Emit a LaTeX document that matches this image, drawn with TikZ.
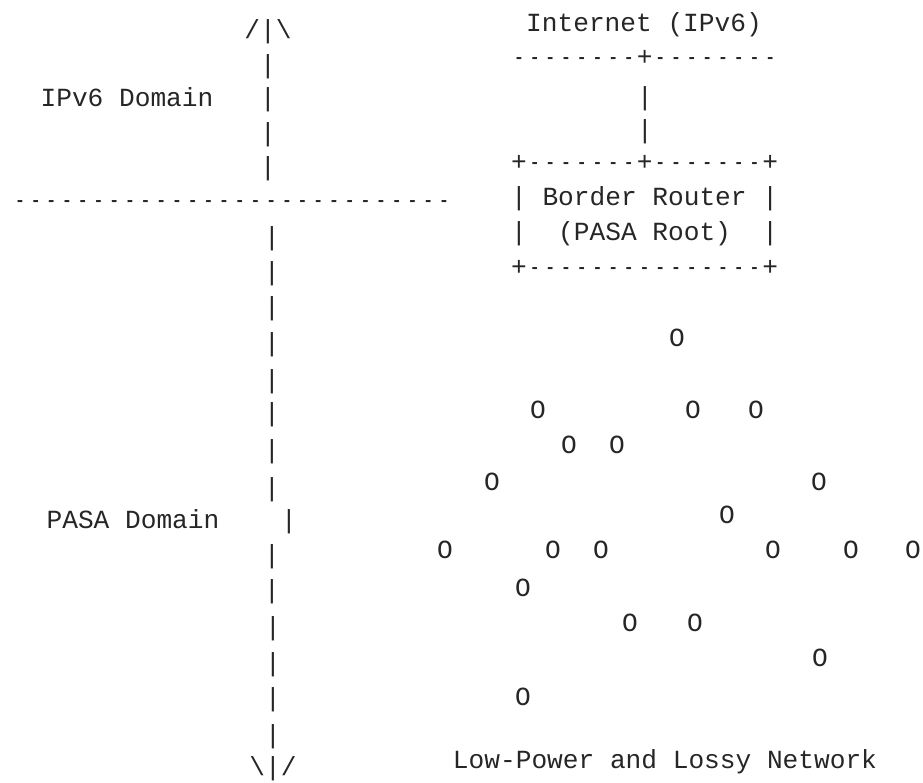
\documentclass[tikz,border=0pt]{standalone}
\usepackage{fontspec}
\usepackage{graphicx}
\setmonofont{Liberation Mono}
\definecolor{ink}{HTML}{262626}
% a short hyphen that keeps the monospace cell width
\newcommand\hy{\makebox[0.6em]{\scalebox{0.66}[1]{-}}}
\newcommand\hyrun[1]{\foreach\k in {1,...,#1}{\hy}}
\tikzset{
  txt/.style={inner sep=0pt, outer sep=0pt, anchor=center, text=ink,
    font=\ttfamily\fontsize{26.17pt}{30pt}\selectfont,
    text height=17pt, text depth=0pt},
}
\begin{document}
\begin{tikzpicture}[x=1pt, y=-1pt]
\useasboundingbox[fill=white] (0,0) rectangle (923,782);

% ---- left axis: IPv6 domain above, PASA domain below ----
\node[txt] (uptip) at (268,30) {/|\textbackslash};
\node[txt] (up1) at (268,65)  {|};
\node[txt] (up2) at (268,98)  {|};
\node[txt] (up3) at (268,133) {|};
\node[txt] (up4) at (268,167) {|};
\node[txt] (ipv6dom) at (127,98) {IPv6 Domain};

\node[txt] (border) at (232,200) {\hyrun{28}};

\node[txt] (lo6)  at (272,237) {|};
\node[txt] (lo7)  at (272,272) {|};
\node[txt] (lo8)  at (272,307) {|};
\node[txt] (lo9)  at (272,343) {|};
\node[txt] (lo10) at (272,380) {|};
\node[txt] (lo11) at (272,413) {|};
\node[txt] (lo12) at (272,450) {|};
\node[txt] (lo13) at (272,488) {|};
\node[txt] (lo14) at (289,520) {|};
\node[txt] (pasadom) at (133,520) {PASA Domain};
\node[txt] (lo15) at (272,555) {|};
\node[txt] (lo16) at (272,590) {|};
\node[txt] (lo17) at (273,627) {|};
\node[txt] (lo18) at (273,663) {|};
\node[txt] (lo19) at (273,698) {|};
\node[txt] (lo20) at (273,735) {|};
\node[txt] (lotip) at (273,767) {\textbackslash|/};

% ---- internet uplink and border router box ----
\node[txt] (inet)    at (644,23)    {Internet (IPv6)};
\node[txt] (inetbar) at (644.6,57)  {\hyrun{8}+\hyrun{8}};
\node[txt] (link1)   at (645,97)    {|};
\node[txt] (link2)   at (645,130)   {|};
\node[txt] (boxtop)  at (644.6,162) {+\hyrun{7}+\hyrun{7}+};
\node[txt] (boxl1)   at (644.6,197) {|~Border~Router~|};
\node[txt] (boxl2)   at (644.6,232) {|~~(PASA~Root)~~|};
\node[txt] (boxbot)  at (644.6,267) {+\hyrun{15}+};

% ---- LLN nodes ----
\node[txt] (n1)  at (677,338) {O};
\node[txt] (n2)  at (538,410) {O};
\node[txt] (n3)  at (693,410) {O};
\node[txt] (n4)  at (756,410) {O};
\node[txt] (n5)  at (569,445) {O};
\node[txt] (n6)  at (617,445) {O};
\node[txt] (n7)  at (492,482) {O};
\node[txt] (n8)  at (819,482) {O};
\node[txt] (n9)  at (727,515) {O};
\node[txt] (n10) at (445,550) {O};
\node[txt] (n11) at (553,550) {O};
\node[txt] (n12) at (601,550) {O};
\node[txt] (n13) at (773,550) {O};
\node[txt] (n14) at (851,550) {O};
\node[txt] (n15) at (913,550) {O};
\node[txt] (n16) at (523,588) {O};
\node[txt] (n17) at (630,623) {O};
\node[txt] (n18) at (695,623) {O};
\node[txt] (n19) at (820,658) {O};
\node[txt] (n20) at (523,697) {O};

\node[txt] (lln) at (665,760) {Low-Power and Lossy Network};
\end{tikzpicture}
\end{document}
